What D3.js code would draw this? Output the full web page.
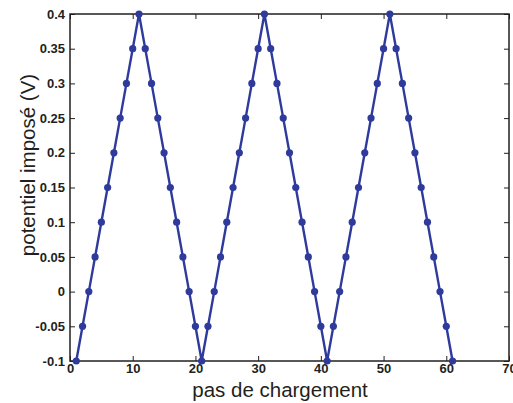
<!DOCTYPE html>
<html><head><meta charset="utf-8">
<script src="https://cdn.jsdelivr.net/npm/d3@7"></script>
<style>body{margin:0;background:#fff;}svg{display:block;}</style>
</head><body>
<script>
const steps = [1,2,3,4,5,6,7,8,9,10,11,12,13,14,15,16,17,18,19,20,21,22,23,24,25,26,27,28,29,30,31,32,33,34,35,36,37,38,39,40,41,42,43,44,45,46,47,48,49,50,51,52,53,54,55,56,57,58,59,60,61];
const potentials = [-0.1,-0.05,0,0.05,0.1,0.15,0.2,0.25,0.3,0.35,0.4,0.35,0.3,0.25,0.2,0.15,0.1,0.05,0,-0.05,-0.1,-0.05,0,0.05,0.1,0.15,0.2,0.25,0.3,0.35,0.4,0.35,0.3,0.25,0.2,0.15,0.1,0.05,0,-0.05,-0.1,-0.05,0,0.05,0.1,0.15,0.2,0.25,0.3,0.35,0.4,0.35,0.3,0.25,0.2,0.15,0.1,0.05,0,-0.05,-0.1];
const xTicks = [0,10,20,30,40,50,60,70];
const yTicks = [-0.1,-0.05,0,0.05,0.1,0.15,0.2,0.25,0.3,0.35,0.4];
const xLabel = "pas de chargement";
const yLabel = "potentiel imposé (V)";

const W = 513, H = 403;
const L = 70, R = 509, T = 14, B = 361;
const svg = d3.select("body").append("svg").attr("width", W).attr("height", H);
const x = d3.scaleLinear().domain([0,70]).range([L,R]);
const y = d3.scaleLinear().domain([-0.1,0.4]).range([B,T]);
const fmt = d => String(+d.toFixed(2));
const font = "Liberation Sans, Arial, sans-serif";

function styleAxis(g){
  g.select(".domain").remove();
  g.selectAll("line").attr("stroke","#231f20").attr("stroke-width",1);
  g.selectAll("text").attr("font-family",font).attr("font-weight","bold").attr("font-size","13px").attr("fill","#231f20");
}
svg.append("g").attr("transform",`translate(0,${B})`)
  .call(d3.axisBottom(x).tickValues(xTicks).tickFormat(fmt).tickSizeInner(-5).tickSizeOuter(0).tickPadding(3))
  .call(styleAxis);
svg.append("g").attr("transform",`translate(0,${T})`)
  .call(d3.axisTop(x).tickValues(xTicks).tickFormat("").tickSizeInner(-5).tickSizeOuter(0))
  .call(styleAxis);
svg.append("g").attr("transform",`translate(${L},0)`)
  .call(d3.axisLeft(y).tickValues(yTicks).tickFormat(fmt).tickSizeInner(-5).tickSizeOuter(0).tickPadding(5))
  .call(styleAxis);
svg.append("g").attr("transform",`translate(${R},0)`)
  .call(d3.axisRight(y).tickValues(yTicks).tickFormat("").tickSizeInner(-5).tickSizeOuter(0))
  .call(styleAxis);

svg.append("rect").attr("x",L).attr("y",T).attr("width",R-L).attr("height",B-T)
  .attr("fill","none").attr("stroke","#231f20").attr("stroke-width",1.5);

const data = steps.map((s,i)=>({s, v: potentials[i]}));
const col = "#2e3a9c";
svg.append("path").datum(data)
  .attr("d", d3.line().x(d=>x(d.s)).y(d=>y(d.v)))
  .attr("fill","none").attr("stroke",col).attr("stroke-width",2.4).attr("stroke-linejoin","round");
svg.append("g").selectAll("circle").data(data).join("circle")
  .attr("cx",d=>x(d.s)).attr("cy",d=>y(d.v)).attr("r",3.6).attr("fill",col);

svg.append("text").attr("x",280).attr("y",397).attr("text-anchor","middle")
  .attr("font-family",font).attr("font-size","20.5px").attr("fill","#231f20").text(xLabel);
svg.append("text").attr("transform",`translate(35,165) rotate(-90)`).attr("text-anchor","middle")
  .attr("font-family",font).attr("font-size","20.5px").attr("fill","#231f20").text(yLabel);
</script>
</body></html>
